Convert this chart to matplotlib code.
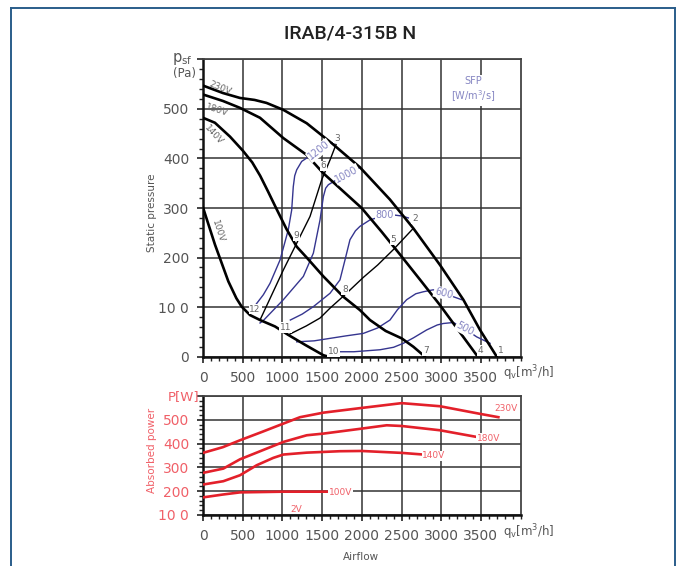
import matplotlib
matplotlib.use("Agg")
import matplotlib.pyplot as plt
from matplotlib.lines import Line2D
from matplotlib.ticker import MultipleLocator

# fan curves, static pressure [Pa] vs airflow [m3/h]
q_230 = [0, 250, 466, 650, 800, 1012, 1306, 1642, 1977, 2355, 2649, 2985, 3279, 3489, 3700]
p_230 = [547, 532, 522, 518, 512, 498, 471, 428, 382, 317, 259, 185, 115, 54, 0]
q_180 = [0, 250, 466, 718, 1012, 1306, 1516, 1750, 1998, 2250, 2502, 2750, 2985, 3200, 3447]
p_180 = [529, 516, 502, 482, 441, 407, 370, 336, 300, 252, 202, 152, 104, 57, 3]
q_140 = [0, 150, 340, 500, 620, 720, 820, 920, 1050, 1180, 1306, 1516, 1767, 1977, 2103, 2300, 2502, 2650, 2796]
p_140 = [482, 472, 444, 416, 392, 365, 333, 300, 258, 222, 200, 162, 121, 94, 74, 52, 37, 20, 0]
q_100 = [0, 151, 319, 420, 487, 592, 718, 907, 1074, 1285, 1516, 1580]
p_100 = [301, 226, 152, 118, 101, 84, 74, 61, 44, 24, 3, 0]

# system curves (thin black)
q_sysA = [718, 1012, 1180, 1348, 1495, 1600, 1675]
p_sysA = [74, 175, 229, 283, 357, 397, 428]
q_sysB = [1074, 1300, 1474, 1600, 1788, 2019, 2200, 2397, 2649]
p_sysB = [44, 62, 78, 98, 125, 160, 185, 216, 259]

# SFP iso-lines [W/m3/s]
q_sfp1200 = [660, 760, 844, 970, 1074, 1117, 1137, 1155, 1180, 1243, 1327, 1450, 1600, 1660]
p_sfp1200 = [104, 125, 148, 195, 256, 296, 343, 365, 377, 394, 403, 416, 430, 432]
q_sfp1000 = [718, 760, 1012, 1264, 1390, 1474, 1516, 1545, 1579, 1684, 1810, 1936, 1977]
p_sfp1000 = [68, 73, 115, 162, 209, 276, 323, 340, 347, 357, 368, 378, 382]
q_sfp800 = [1100, 1250, 1390, 1600, 1725, 1788, 1851, 1920, 1977, 2103, 2229, 2300, 2397, 2500, 2586]
p_sfp800 = [74, 86, 101, 128, 155, 195, 236, 254, 263, 276, 282, 284, 286, 284, 280]
q_sfp600 = [1180, 1400, 1600, 1800, 2019, 2200, 2355, 2450, 2565, 2680, 2775, 2901, 3030, 3153, 3258]
p_sfp600 = [30, 32, 37, 42, 47, 58, 74, 95, 115, 127, 131, 135, 128, 121, 115]
q_sfp500 = [1725, 1900, 2229, 2400, 2523, 2650, 2817, 2950, 3027, 3153, 3300, 3447, 3615]
p_sfp500 = [10, 10, 14, 19, 27, 38, 54, 64, 67, 69, 56, 40, 27]

# absorbed power [W]
qw_230 = [0, 250, 466, 750, 1012, 1222, 1516, 1977, 2502, 2985, 3489, 3720]
w_230 = [361, 385, 414, 450, 484, 511, 530, 549, 570, 557, 525, 511]
qw_180 = [0, 256, 466, 750, 1012, 1306, 1516, 1977, 2313, 2502, 2985, 3447]
w_180 = [277, 295, 334, 372, 407, 435, 442, 462, 477, 474, 456, 428]
qw_140 = [0, 256, 466, 676, 885, 1012, 1306, 1725, 1998, 2502, 2775]
w_140 = [228, 242, 267, 309, 340, 354, 362, 368, 369, 361, 354]
qw_100 = [0, 250, 466, 1012, 1579]
w_100 = [174, 186, 195, 198, 198]

x_ticks = [0, 500, 1000, 1500, 2000, 2500, 3000, 3500]
x_ticklabels = ['0', '500', '1000', '1500', '2000', '2500', '3000', '3500']
p_ticks = [0, 100, 200, 300, 400, 500, 600]
p_ticklabels = ['0', '10 0', '200', '300', '400', '500', '']
w_ticks = [100, 200, 300, 400, 500, 600]
w_ticklabels = ['10 0', '200', '300', '400', '500', '']

# point labels on the pressure chart
point_names = ['1', '2', '3', '4', '5', '6', '7', '8', '9', '10', '11', '12']
point_q = [3749, 2670, 1684, 3497, 2397, 1516, 2809, 1788, 1180, 1642, 1042, 655]
point_p = [12, 278, 441, 12, 236, 385, 12, 136, 244, 10, 59, 96]

W, H = 683, 566
GREY = '#555555'
BLUE = '#35358f'
BLUE_TXT = '#8585c2'
RED = '#e3202a'
RED_TXT = '#f06068'


def fx(x):
    return x / W


def fy(y):
    return 1 - y / H


def style_axes(ax, yticks, yticklabels, ycolor):
    ax.set_xlim(0, 4000)
    ax.set_xticks(x_ticks)
    ax.set_xticklabels(x_ticklabels)
    ax.set_yticks(yticks)
    ax.set_yticklabels(yticklabels)
    ax.xaxis.set_minor_locator(MultipleLocator(100))
    ax.yaxis.set_minor_locator(MultipleLocator(20))
    ax.grid(True, which='major', color='#333333', lw=1.1)
    ax.tick_params(which='major', length=4, width=1.2, colors='#222222', pad=6)
    ax.tick_params(which='minor', length=3, width=1.0, colors='#222222')
    ax.tick_params(axis='x', labelsize=10, labelcolor=GREY)
    ax.tick_params(axis='y', labelsize=10, labelcolor=ycolor)
    for s in ['top', 'right']:
        ax.spines[s].set_color('#444444')
        ax.spines[s].set_linewidth(1.3)
    for s in ['left', 'bottom']:
        ax.spines[s].set_color('#111111')
        ax.spines[s].set_linewidth(1.8)
    ax.set_axisbelow(True)


fig = plt.figure(figsize=(W / 100, H / 100), dpi=100)

ax1 = fig.add_axes([fx(203), fy(356.7), fx(520.6 - 203), (356.7 - 59.3) / H])
ax2 = fig.add_axes([fx(203), fy(515), fx(520.6 - 203), (515 - 396) / H])

# pressure chart
style_axes(ax1, p_ticks, p_ticklabels, GREY)
ax1.set_ylim(0, 600)

for q, p in [(q_sfp1200, p_sfp1200), (q_sfp1000, p_sfp1000), (q_sfp800, p_sfp800),
             (q_sfp600, p_sfp600), (q_sfp500, p_sfp500)]:
    ax1.plot(q, p, color=BLUE, lw=1.0, zorder=3)
ax1.plot(q_sysA, p_sysA, color='black', lw=1.0, zorder=3)
ax1.plot(q_sysB, p_sysB, color='black', lw=1.0, zorder=3)
for q, p in [(q_230, p_230), (q_180, p_180), (q_140, p_140), (q_100, p_100)]:
    ax1.plot(q, p, color='black', lw=1.9, zorder=4, solid_capstyle='round',
             solid_joinstyle='round')

bb = dict(facecolor='white', edgecolor='none', pad=0.6)
for name, q, p in zip(point_names, point_q, point_p):
    ax1.text(q, p, name, fontsize=6.5, color='#666666', ha='center', va='center',
             bbox=bb, zorder=5)

sfp_labels = [('1200', 1460, 416, 38), ('1000', 1810, 368, 28), ('800', 2290, 285, 0),
              ('600', 3030, 128, -15), ('500', 3300, 56, -28)]
for txt, q, p, rot in sfp_labels:
    ax1.text(q, p, txt, fontsize=7, color=BLUE_TXT, ha='center', va='center',
             rotation=rot, bbox=bb, zorder=5)

volt_labels = [('230V', 214, 542, -22), ('180V', 172, 497, -18),
               ('140V', 130, 448, -48), ('100V', 193, 253, -72)]
for txt, q, p, rot in volt_labels:
    ax1.text(q, p, txt, fontsize=6.5, color='#666666', ha='center', va='center',
             rotation=rot, zorder=5)

ax1.text(3405, 539, 'SFP\n[W/m$^3$/s]', fontsize=7, color=BLUE_TXT, ha='center',
         va='center', linespacing=1.2,
         bbox=dict(facecolor='white', edgecolor='none', pad=1.5), zorder=5)

# power chart
style_axes(ax2, w_ticks, w_ticklabels, RED_TXT)
ax2.set_ylim(100, 600)
for q, w in [(qw_230, w_230), (qw_180, w_180), (qw_140, w_140), (qw_100, w_100)]:
    ax2.plot(q, w, color=RED, lw=1.9, zorder=4, solid_joinstyle='round')

power_labels = [('230V', 3812, 546), ('180V', 3593, 423), ('140V', 2909, 348),
                ('100V', 1738, 195), ('2V', 1180, 125)]
for txt, q, w in power_labels:
    ax2.text(q, w, txt, fontsize=6.5, color=RED_TXT, ha='center', va='center',
             bbox=bb, zorder=5)

# texts around the axes
fig.text(fx(350), fy(33), 'IRAB/4-315B N', fontsize=14, ha='center', va='center',
         color='#222222', family=['Roboto', 'DejaVu Sans'], weight='medium')
fig.text(fx(182), fy(59), 'p$_{\\mathrm{sf}}$', fontsize=10.5, ha='center', va='center',
         color=GREY)
fig.text(fx(185), fy(73), '(Pa)', fontsize=8.5, ha='center', va='center', color=GREY)
fig.text(fx(152), fy(213), 'Static pressure', fontsize=7.5, rotation=90,
         ha='center', va='center', color=GREY)
fig.text(fx(184), fy(397), 'P[W]', fontsize=9.5, ha='center', va='center', color=RED_TXT)
fig.text(fx(152), fy(450), 'Absorbed power', fontsize=7.5, rotation=90,
         ha='center', va='center', color=RED_TXT)
for y in [373, 532]:
    fig.text(fx(503), fy(y), 'q$_\\mathrm{v}$[m$^3$/h]', fontsize=8.5, ha='left',
             va='center', color=GREY)
fig.text(fx(361), fy(557), 'Airflow', fontsize=7.5, ha='center', va='center', color=GREY)

# outer frame (open at the bottom)
frame = '#2a5d8a'
fig.add_artist(Line2D([fx(11), fx(11)], [0, fy(8)], color=frame, lw=1.4))
fig.add_artist(Line2D([fx(675), fx(675)], [0, fy(8)], color=frame, lw=1.4))
fig.add_artist(Line2D([fx(11), fx(675)], [fy(8), fy(8)], color=frame, lw=1.4))

fig.savefig('out.png', dpi=100)
